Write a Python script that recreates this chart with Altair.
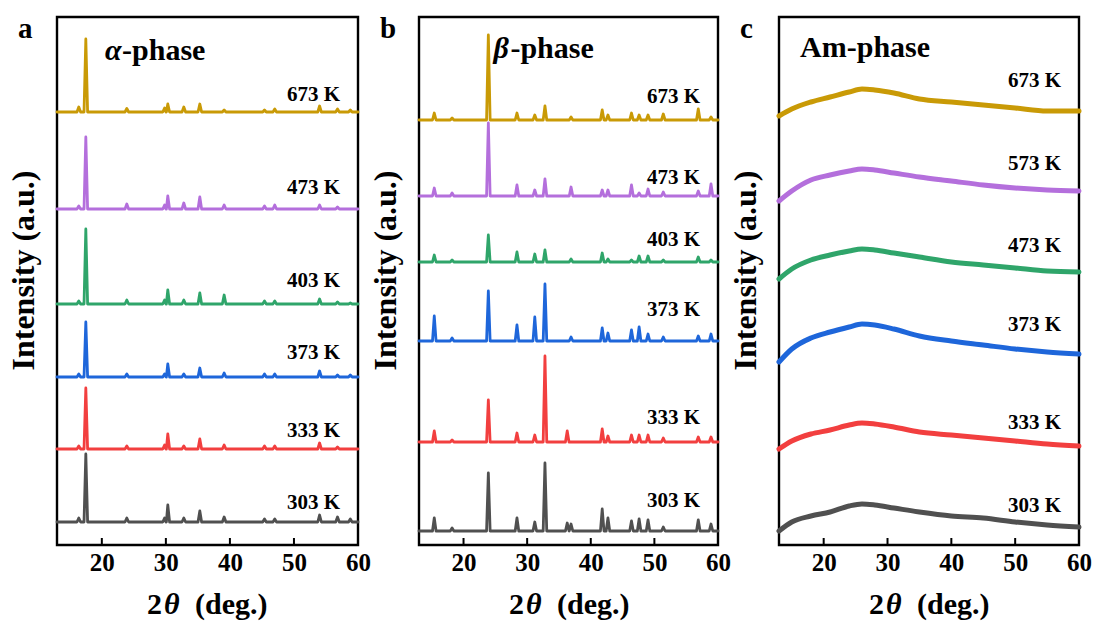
import altair as alt
import pandas as pd

# ---------------- data ----------------
X_MIN, X_MAX = 13, 60

# panel a (alpha phase)
a_temps = ["673 K", "473 K", "403 K", "373 K", "333 K", "303 K"]
a_offsets = [433, 336, 241, 168, 96, 23]
a_label_y = [444, 351, 258, 186, 108, 36]
a_peaks = [16.4, 17.5, 23.9, 29.8, 30.3, 32.8, 35.3, 39.1, 45.4, 47.0, 54.0, 56.8, 58.8]
a_heights = [
    [5, 73, 3.5, 4, 8, 5, 8, 2, 2, 3, 6, 3, 2],
    [3, 72, 5, 4, 13, 6, 12, 4, 3, 4, 4, 2, 0],
    [3, 75, 4, 4, 14, 4, 11, 9, 3, 3, 5, 2, 1],
    [3, 55, 3, 3, 13, 3, 9, 4, 3, 3, 6, 2, 2],
    [3, 61, 3, 4, 15, 3, 10, 4, 3, 3, 6, 2, 0],
    [4, 68, 4, 4, 17, 4, 11, 5, 3, 3, 7, 5, 3],
]

# panel b (beta phase)
b_temps = ["673 K", "473 K", "403 K", "373 K", "333 K", "303 K"]
b_offsets = [425, 349, 283, 204, 103, 14]
b_label_y = [442, 361, 299, 229, 121, 38]
b_peaks = [15.4, 18.2, 23.9, 28.4, 31.2, 32.8, 36.3, 36.9, 41.8, 42.7, 46.4, 47.6, 49.0, 51.4, 56.9, 58.9]
b_heights = [
    [7, 2, 85, 7, 5, 14, 0, 3, 10, 5, 7, 5, 5, 6, 11, 3],
    [8, 3, 73, 11, 6, 17, 0, 9, 6, 6, 11, 3, 7, 4, 5, 12],
    [7, 2, 27, 10, 8, 12, 0, 3, 9, 3, 2, 6, 6, 2, 5, 2],
    [25, 3, 50, 16, 24, 57, 0, 4, 13, 8, 11, 14, 7, 4, 5, 7],
    [11, 2, 42, 9, 7, 86, 11, 0, 13, 6, 7, 7, 7, 4, 5, 5],
    [13, 3, 58, 13, 9, 68, 8, 7, 22, 13, 10, 12, 11, 4, 11, 7],
]

# panel c (amorphous phase)
c_temps = ["673 K", "573 K", "473 K", "373 K", "333 K", "303 K"]
c_label_y = [458, 375, 293, 214, 116, 33]
c_x = [13, 15, 18, 21, 24, 26, 28, 31, 35, 40, 45, 50, 55, 60]
c_values = [
    [429, 436, 443, 448, 453, 456, 455, 452, 446, 443, 440, 437, 434, 434],
    [344, 354, 365, 370, 374, 376, 375, 372, 368, 364, 360, 357, 355, 354],
    [266, 276, 285, 290, 294, 296, 295, 292, 288, 283, 280, 277, 274, 273],
    [183, 196, 207, 213, 218, 221, 220, 216, 209, 204, 200, 196, 193, 191],
    [96, 104, 111, 115, 120, 122, 121, 118, 113, 110, 107, 104, 101, 99],
    [14, 23, 29, 33, 39, 41, 40, 37, 33, 29, 27, 23, 20, 18],
]

tick_values = [20, 30, 40, 50]
colors = ["#C99A06", "#B46FDC", "#2FA56A", "#1E66DA", "#F23F3F", "#505050"]

# ---------------- helpers ----------------
HW = 0.28
FONT = "Liberation Serif"
H_PLOT = 528


def peak_table(temps, offsets, peaks, heights):
    rows = []
    for t, off, hs in zip(temps, offsets, heights):
        rows.append({"temp": t, "x": X_MIN, "y": off})
        for p, h in zip(peaks, hs):
            if h > 0:
                rows.append({"temp": t, "x": p - HW, "y": off})
                rows.append({"temp": t, "x": p, "y": off + h})
                rows.append({"temp": t, "x": p + HW, "y": off})
        rows.append({"temp": t, "x": X_MAX, "y": off})
    return pd.DataFrame(rows)


def curve_table(temps, xs, values):
    rows = []
    for t, vs in zip(temps, values):
        for x, v in zip(xs, vs):
            rows.append({"temp": t, "x": x, "y": v})
    return pd.DataFrame(rows)


xscale = alt.Scale(domain=[X_MIN, X_MAX], nice=False, zero=False)
yscale = alt.Scale(domain=[0, H_PLOT], nice=False, zero=False)


def make_panel(letter, df, temps, label_y, phase_parts, phase_x, phase_y, width,
               stroke, smooth=False):
    xaxis = alt.Axis(values=[20, 30, 40, 50, 60], title=None, labelFontSize=25,
                     labelFontWeight="bold", labelFont=FONT, labelColor="black",
                     ticks=False, domain=False, grid=False, labelPadding=5,
                     labelFlush=False, format="d")
    yaxis = alt.Axis(title="Intensity (a.u.)", labels=False, ticks=False,
                     domain=False, grid=False, titleFontSize=32,
                     titleFontWeight="bold", titleFont=FONT, titlePadding=17,
                     titleColor="black", titleY=253)
    cscale = alt.Scale(domain=temps, range=colors)

    line_kwargs = dict(strokeWidth=stroke, strokeJoin="round", strokeCap="round")
    if smooth:
        line_kwargs["interpolate"] = "monotone"
    lines = alt.Chart(df).mark_line(**line_kwargs).encode(
        x=alt.X("x:Q", scale=xscale, axis=xaxis),
        y=alt.Y("y:Q", scale=yscale, axis=yaxis),
        color=alt.Color("temp:N", scale=cscale, legend=None),
        detail="temp:N",
    )

    lab_df = pd.DataFrame({"temp": temps, "y": label_y, "x": [57.2] * len(temps)})
    labels = alt.Chart(lab_df).mark_text(
        align="right", baseline="alphabetic", font=FONT, fontSize=21,
        fontWeight="bold", color="black"
    ).encode(x=alt.X("x:Q", scale=xscale), y=alt.Y("y:Q", scale=yscale), text="temp:N")

    tick_df = pd.DataFrame({"t": tick_values})
    ticks = alt.Chart(tick_df).mark_rule(color="black", strokeWidth=2).encode(
        x=alt.X("t:Q", scale=xscale), y=alt.value(H_PLOT), y2=alt.value(H_PLOT - 7)
    )

    layers = [lines, labels, ticks]

    dx = 0
    for txt, italic, advance in phase_parts:
        pdf = pd.DataFrame({"x": [phase_x], "y": [phase_y], "s": [txt]})
        layers.append(
            alt.Chart(pdf).mark_text(
                align="left", baseline="alphabetic", font=FONT, fontSize=30,
                fontWeight="bold", fontStyle="italic" if italic else "normal",
                color="black", dx=dx
            ).encode(x=alt.X("x:Q", scale=xscale), y=alt.Y("y:Q", scale=yscale), text="s:N")
        )
        dx += advance

    layers.append(
        alt.Chart(pd.DataFrame({"s": [letter]})).mark_text(
            align="left", baseline="alphabetic", font=FONT, fontSize=29,
            fontWeight="bold", color="black"
        ).encode(x=alt.value(-39), y=alt.value(21), text="s:N")
    )

    for txt, italic, px in [("2", False, 90), ("θ", True, 107), ("(deg.)", False, 138)]:
        layers.append(
            alt.Chart(pd.DataFrame({"s": [txt]})).mark_text(
                align="left", baseline="alphabetic", font=FONT, fontSize=30,
                fontWeight="bold", fontStyle="italic" if italic else "normal",
                color="black"
            ).encode(x=alt.value(px), y=alt.value(H_PLOT + 69), text="s:N")
        )

    return alt.layer(*layers).properties(width=width, height=H_PLOT)


pa = make_panel("a", peak_table(a_temps, a_offsets, a_peaks, a_heights), a_temps,
                a_label_y, [("α", True, 17), ("-phase", False, 0)], 20.5, 485, 301, 2.8)
pb = make_panel("b", peak_table(b_temps, b_offsets, b_peaks, b_heights), b_temps,
                b_label_y, [("β", True, 17), ("-phase", False, 0)], 24.7, 487, 299, 2.8)
pc = make_panel("c", curve_table(c_temps, c_x, c_values), c_temps,
                c_label_y, [("Am-phase", False, 0)], 16.3, 488, 300, 5, smooth=True)

chart = alt.hconcat(pa, pb, pc, spacing=61, bounds="flush").resolve_scale(
    color="independent"
).properties(
    padding={"left": 5, "top": 13, "right": 0, "bottom": 0}
).configure(
    background="white",
    view=alt.ViewConfig(stroke="black", strokeWidth=2.4),
)

chart.save("out.html", embed_options={"renderer": "svg", "actions": False})
